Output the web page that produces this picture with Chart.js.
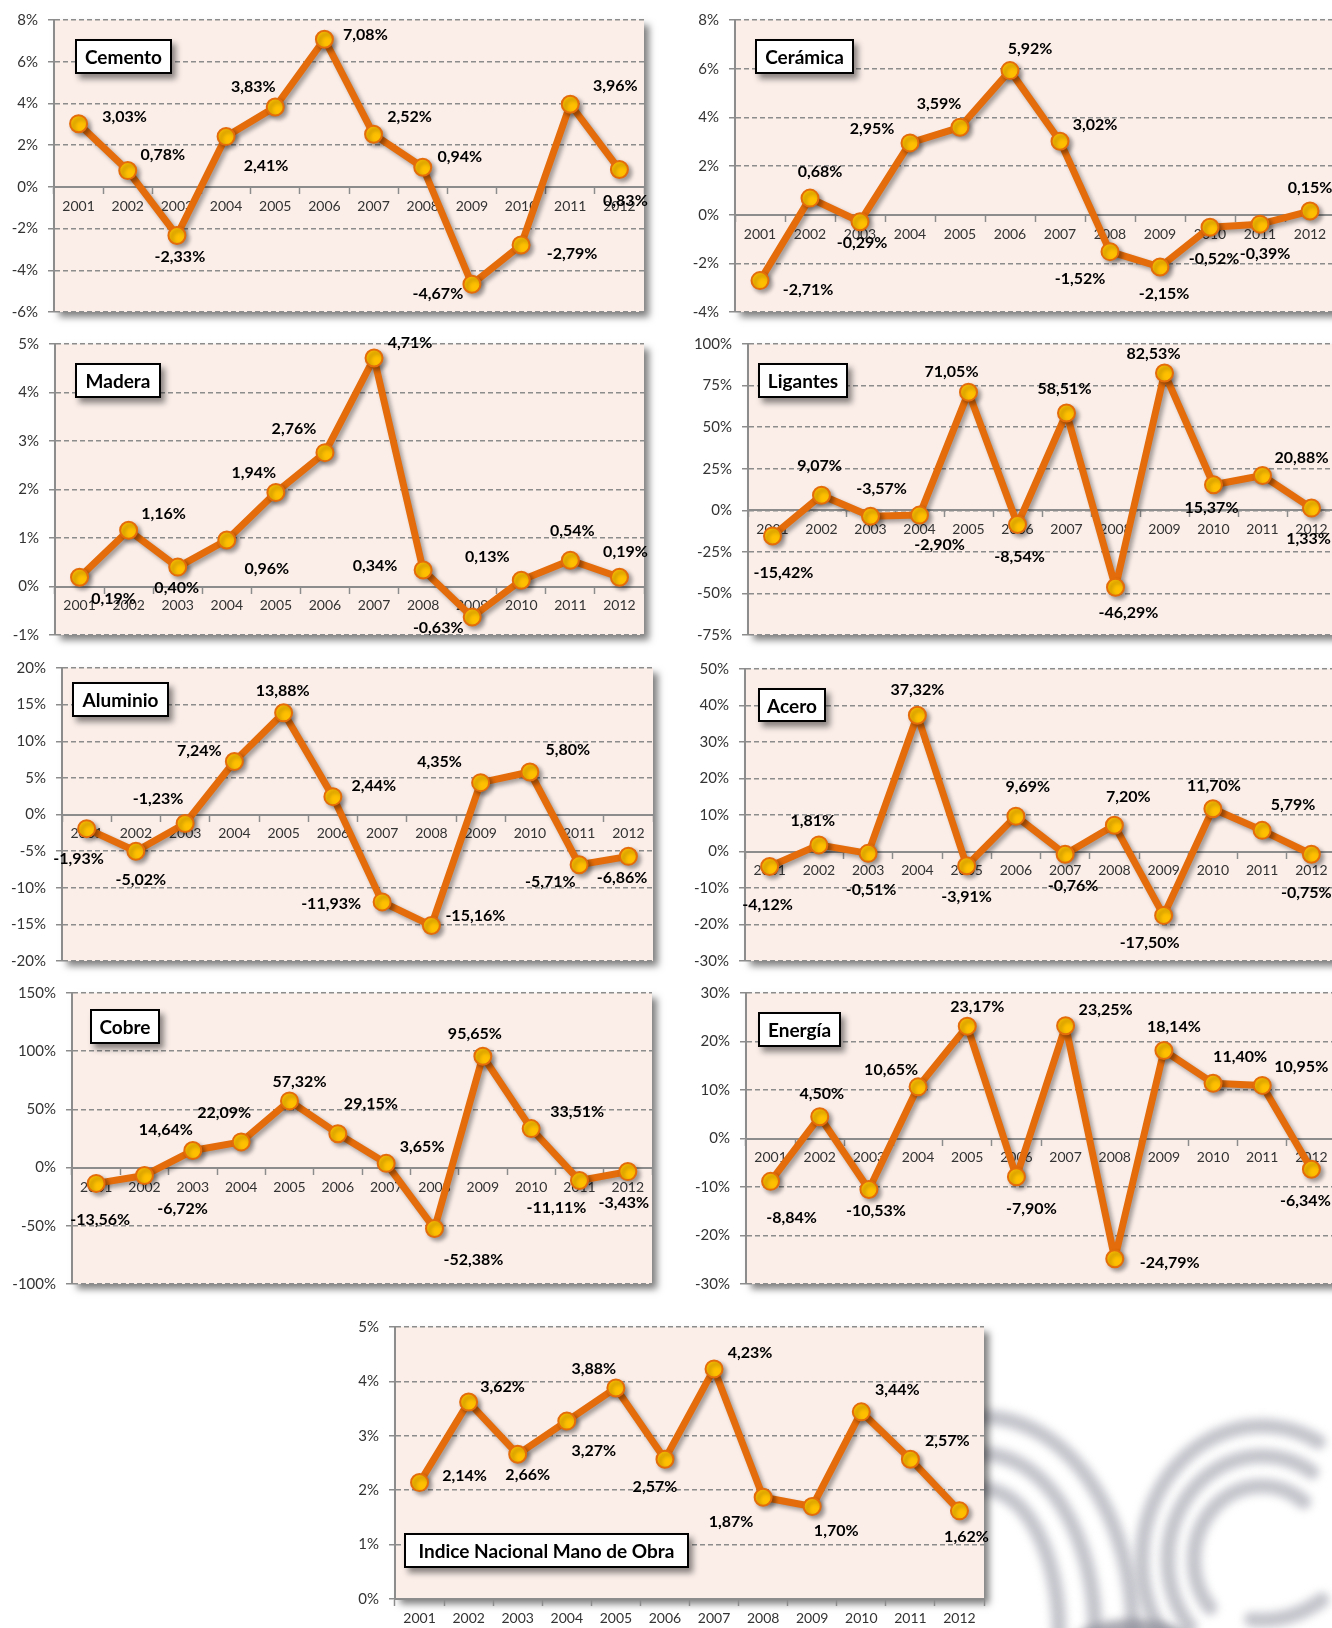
<!DOCTYPE html>
<html>
<head>
<meta charset="utf-8">
<script src="https://cdn.jsdelivr.net/npm/chart.js@4.4.0/dist/chart.umd.min.js"></script>
<style>
html,body{margin:0;padding:0;width:1332px;height:1628px;overflow:hidden;background:#fff;}
body{position:relative;}
canvas{position:absolute;}
#wm{left:0;top:0;z-index:0;}
.chartcv{z-index:1;}
.title{position:absolute;z-index:2;background:#fff;border:2px solid #000;box-shadow:4px 5px 6px rgba(0,0,0,0.45);
  font:bold 19px Lato, "Open Sans", sans-serif;color:#000;display:flex;align-items:center;justify-content:center;box-sizing:border-box;white-space:nowrap;}
</style>
</head>
<body>
<canvas id="wm" width="1332" height="1628"></canvas>
<script>
// ---------- DATA ----------
const years = ['2001','2002','2003','2004','2005','2006','2007','2008','2009','2010','2011','2012'];

const cemento  = [3.03, 0.78, -2.33, 2.41, 3.83, 7.08, 2.52, 0.94, -4.67, -2.79, 3.96, 0.83];
const ceramica = [-2.71, 0.68, -0.29, 2.95, 3.59, 5.92, 3.02, -1.52, -2.15, -0.52, -0.39, 0.15];
const madera   = [0.19, 1.16, 0.40, 0.96, 1.94, 2.76, 4.71, 0.34, -0.63, 0.13, 0.54, 0.19];
const ligantes = [-15.42, 9.07, -3.57, -2.90, 71.05, -8.54, 58.51, -46.29, 82.53, 15.37, 20.88, 1.33];
const aluminio = [-1.93, -5.02, -1.23, 7.24, 13.88, 2.44, -11.93, -15.16, 4.35, 5.80, -6.86, -5.71];
const acero    = [-4.12, 1.81, -0.51, 37.32, -3.91, 9.69, -0.76, 7.20, -17.50, 11.70, 5.79, -0.75];
const cobre    = [-13.56, -6.72, 14.64, 22.09, 57.32, 29.15, 3.65, -52.38, 95.65, 33.51, -11.11, -3.43];
const energia  = [-8.84, 4.50, -10.53, 10.65, 23.17, -7.90, 23.25, -24.79, 18.14, 11.40, 10.95, -6.34];
const manoObra = [2.14, 3.62, 2.66, 3.27, 3.88, 2.57, 4.23, 1.87, 1.70, 3.44, 2.57, 1.62];

// y-axis tick ranges: [min, max, step]
const cementoTicks  = [-6, 8, 2];
const ceramicaTicks = [-4, 8, 2];
const maderaTicks   = [-1, 5, 1];
const ligantesTicks = [-75, 100, 25];
const aluminioTicks = [-20, 20, 5];
const aceroTicks    = [-30, 50, 10];
const cobreTicks    = [-100, 150, 50];
const energiaTicks  = [-30, 30, 10];
const manoObraTicks = [0, 5, 1];

// ---------- LAYOUT (positions only) ----------
const cementoLbl  = [[46,-7],[35,-16],[3,21],[40,29],[-22,-20],[41,-4],[36,-17],[37,-10],[-34,10],[51,9],[45,-18],[6,31]];
const ceramicaLbl = [[48,9],[10,-26],[2,21],[-38,-14],[-21,-23],[20,-22],[35,-16],[-30,27],[4,27],[4,32],[5,30],[0,-23]];
const maderaLbl   = [[34,22],[35,-16],[-1,21],[40,29],[-22,-20],[-31,-24],[36,-15],[-48,-4],[-34,11],[-34,-23],[2,-29],[6,-25]];
const ligantesLbl = [[11,37],[-2,-29],[11,-27],[20,30],[-17,-20],[2,32],[-2,-24],[13,26],[-11,-19],[-2,23],[39,-18],[-3,31]];
const aluminioLbl = [[-8,30],[5,29],[-27,-25],[-35,-11],[-1,-22],[41,-11],[-51,2],[44,-10],[-41,-21],[38,-22],[43,13],[-78,26]];
const aceroLbl    = [[-2,38],[-6,-24],[3,36],[0,-25],[0,31],[12,-29],[8,32],[14,-28],[-14,27],[1,-23],[31,-26],[-5,39]];
const cobreLbl    = [[4,36],[38,33],[-27,-21],[-17,-29],[10,-19],[33,-30],[36,-17],[39,31],[-8,-22],[46,-17],[-23,27],[-4,31]];
const energiaLbl  = [[21,36],[2,-23],[7,21],[-27,-17],[10,-19],[15,32],[40,-16],[55,4],[10,-24],[27,-26],[39,-19],[-6,32]];
const manoObraLbl = [[45,-7],[34,-15],[10,21],[27,30],[-22,-19],[-10,28],[36,-16],[-32,25],[24,24],[36,-22],[37,-18],[7,26]];

const panels = [
  {title:'Cemento',  data:cemento,  ticks:cementoTicks,  lbl:cementoLbl,  plot:[54,20,644,312],    box:[75,39,97,35]},
  {title:'Cerámica', data:ceramica, ticks:ceramicaTicks, lbl:ceramicaLbl, plot:[735,20,1335,312],  box:[755,39,99,35]},
  {title:'Madera',   data:madera,   ticks:maderaTicks,   lbl:maderaLbl,   plot:[55,344,644,635],   box:[75,363,86,35]},
  {title:'Ligantes', data:ligantes, ticks:ligantesTicks, lbl:ligantesLbl, plot:[748,344,1336,635], box:[758,363,90,35]},
  {title:'Aluminio', data:aluminio, ticks:aluminioTicks, lbl:aluminioLbl, plot:[62,668,653,961],   box:[72,682,97,35]},
  {title:'Acero',    data:acero,    ticks:aceroTicks,    lbl:aceroLbl,    plot:[745,669,1336,961], box:[758,688,68,34]},
  {title:'Cobre',    data:cobre,    ticks:cobreTicks,    lbl:cobreLbl,    plot:[72,993,652,1284],  box:[90,1009,70,35]},
  {title:'Energía',  data:energia,  ticks:energiaTicks,  lbl:energiaLbl,  plot:[746,993,1336,1284], box:[758,1012,83,35]},
  {title:'Indice Nacional Mano de Obra', data:manoObra, ticks:manoObraTicks, lbl:manoObraLbl, plot:[395,1327,984,1599], box:[404,1533,285,35]}
];

// ---------- WATERMARK ----------
(function(){
  const c = document.getElementById('wm').getContext('2d');
  c.save();
  c.filter = 'blur(4px)';
  c.strokeStyle = 'rgba(160,162,172,0.62)';
  c.lineWidth = 15;
  c.lineCap = 'round';
  const D = Math.PI/180;
  [[150,215],[112,178],[76,143]].forEach(([rx,ry])=>{
    c.beginPath(); c.ellipse(983,1632,rx,ry,0,-90*D,0,false); c.stroke();
  });
  [[120,134,-62],[94,104,-58],[68,74,-52]].forEach(([rx,ry,s])=>{
    c.beginPath(); c.ellipse(1262,1560,rx,ry,0,s*D,140*D,true); c.stroke();
  });
  c.beginPath(); c.ellipse(1262,1470,120,150,0,60*D,95*D,false); c.stroke();
  c.fillStyle = 'rgba(140,142,152,0.75)';
  c.beginPath(); c.ellipse(1133,1645,62,26,0,0,2*Math.PI); c.fill();
  c.restore();
})();

// ---------- CHARTS ----------
const fmt = v => v.toFixed(2).replace('.', ',') + '%';
const PT = 24, PR = 16, PB = 38, YW = 60;
const GRID = '#8c8c8c';
const TXT = '#333333';

panels.forEach((p, idx) => {
  const [L, T, R, B] = p.plot;
  const cv = document.createElement('canvas');
  cv.className = 'chartcv';
  cv.width = (R - L) + YW + PR;
  cv.height = (B - T) + PT + PB;
  cv.style.left = (L - YW) + 'px';
  cv.style.top = (T - PT) + 'px';
  document.body.appendChild(cv);

  const tb = document.createElement('div');
  tb.className = 'title';
  tb.textContent = p.title;
  tb.style.left = p.box[0] + 'px';
  tb.style.top = p.box[1] + 'px';
  tb.style.width = p.box[2] + 'px';
  tb.style.height = p.box[3] + 'px';
  document.body.appendChild(tb);

  const deco = {
    id: 'deco' + idx,
    beforeDraw(chart) {
      const {ctx, chartArea: a} = chart;
      ctx.save();
      ctx.shadowColor = 'rgba(0,0,0,0.5)';
      ctx.shadowBlur = 7;
      ctx.shadowOffsetX = 5;
      ctx.shadowOffsetY = 5;
      ctx.fillStyle = '#FBEEE9';
      ctx.fillRect(a.left, a.top, a.right - a.left, a.bottom - a.top);
      ctx.restore();
    },
    beforeDatasetsDraw(chart) {
      const ctx = chart.ctx;
      ctx.save();
      ctx.shadowColor = 'rgba(0,0,0,0.35)';
      ctx.shadowBlur = 4;
      ctx.shadowOffsetX = 3;
      ctx.shadowOffsetY = 3;
    },
    afterDatasetsDraw(chart) {
      const ctx = chart.ctx;
      ctx.restore();
      const meta = chart.getDatasetMeta(0);
      const vals = chart.data.datasets[0].data;
      ctx.save();
      ctx.font = 'bold 16px Lato, "Open Sans", sans-serif';
      ctx.fillStyle = '#000';
      ctx.textAlign = 'center';
      ctx.textBaseline = 'middle';
      meta.data.forEach((pt, i) => {
        const o = p.lbl[i];
        ctx.fillText(fmt(vals[i]), pt.x + o[0], pt.y + o[1]);
      });
      ctx.restore();
    }
  };

  new Chart(cv, {
    type: 'line',
    data: {
      labels: years,
      datasets: [{
        data: p.data,
        borderColor: '#E46C0A',
        borderWidth: 7,
        borderJoinStyle: 'round',
        pointRadius: 8.5,
        pointHoverRadius: 8.5,
        pointBackgroundColor: '#FFC000',
        pointBorderColor: '#E46C0A',
        pointBorderWidth: 2,
        tension: 0,
        fill: false,
        clip: false
      }]
    },
    options: {
      responsive: false,
      animation: false,
      events: [],
      layout: {padding: {left: 0, top: PT, right: PR, bottom: PB}},
      plugins: {legend: {display: false}, tooltip: {enabled: false}, title: {display: false}},
      scales: {
        x: {
          type: 'category',
          position: {y: 0},
          offset: true,
          grid: {display: true, drawOnChartArea: false, drawTicks: true, tickLength: 6, tickColor: GRID, tickWidth: 1.5, offset: true},
          border: {display: true, color: GRID, width: 2},
          ticks: {color: TXT, font: {family: 'Lato', size: 14}, padding: 5, maxRotation: 0, autoSkip: false},
          afterFit(s) { s.height = 0; }
        },
        y: {
          min: p.ticks[0],
          max: p.ticks[1],
          grid: {color: GRID, lineWidth: 1.5, drawTicks: true, tickLength: 6, tickColor: GRID, tickWidth: 1.5},
          border: {display: true, color: GRID, width: 2, dash: [5, 3]},
          ticks: {stepSize: p.ticks[2], color: TXT, font: {family: 'Lato', size: 15}, padding: 10, callback: v => v + '%'},
          afterFit(s) { s.width = YW; }
        }
      }
    },
    plugins: [deco]
  });
});
</script>
</body>
</html>
